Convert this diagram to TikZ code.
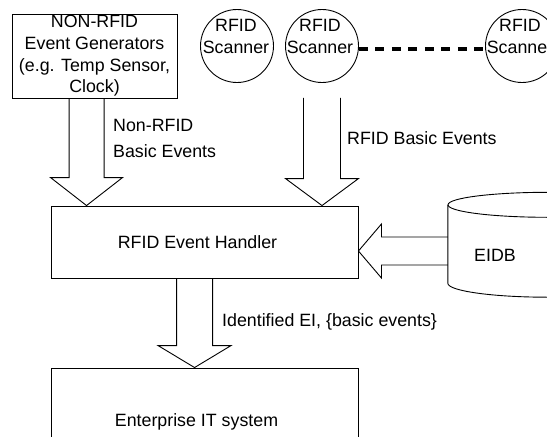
\documentclass[tikz,border=0pt]{standalone}
\usepackage{fontspec}
\setmainfont{Liberation Sans}
\usetikzlibrary{calc}
% block arrow pointing down: #1 start, #2 tip, #3 half shaft, #4 half head, #5 head length
\newcommand\blkdown[5]{%
  \draw[blk] let \p1=(#1), \p2=(#2) in
    (\x1-#3pt,\y1) -- (\x1-#3pt,\y2+#5pt) -- (\x1-#4pt,\y2+#5pt) -- (\x1,\y2)
    -- (\x1+#4pt,\y2+#5pt) -- (\x1+#3pt,\y2+#5pt) -- (\x1+#3pt,\y1);}
% block arrow pointing left
\newcommand\blkleft[5]{%
  \draw[blk] let \p1=(#1), \p2=(#2) in
    (\x1,\y1+#3pt) -- (\x2+#5pt,\y1+#3pt) -- (\x2+#5pt,\y1+#4pt) -- (\x2,\y1)
    -- (\x2+#5pt,\y1-#4pt) -- (\x2+#5pt,\y1-#3pt) -- (\x1,\y1-#3pt);}
\begin{document}
\begin{tikzpicture}[x=1pt,y=-1pt,
  font=\fontsize{17.8}{21.6}\selectfont,
  box/.style={draw, line width=0.9pt, inner sep=0pt, align=center},
  scan/.style={circle, draw, line width=0.9pt, minimum size=73pt, inner sep=0pt},
  stext/.style={align=center, inner sep=0pt, font=\fontsize{17.8}{21.5}\selectfont},
  lbl/.style={inner sep=0pt, align=left},
  blk/.style={draw, line width=0.9pt, line join=miter},
  dashline/.style={line width=4pt, dash pattern=on 9pt off 7.5pt}]
\useasboundingbox (0,0) rectangle (547,437);
\begin{scope}
\clip (0,0) rectangle (547,437);
% nodes
\node[box, minimum width=165pt, minimum height=84pt] (gen) at (94.5,56)
  {NON-RFID\\Event Generators\\(e.g. Temp Sensor,\\Clock)};
\node[scan] (sc1) at (237,46) {};
\node[scan] (sc2) at (322,46) {};
\node[scan] (sc3) at (522,46) {};
\node[stext] (sc1t) at (236,36.5) {RFID\\Scanner};
\node[stext] (sc2t) at (320,36.5) {RFID\\Scanner};
\node[stext] (sc3t) at (520,36.5) {RFID\\Scanner};
\node[box, minimum width=307pt, minimum height=72pt,
  label={[xshift=-7pt]center:RFID Event Handler}] (handler) at (204.5,242) {};
\node[box, minimum width=307pt, minimum height=108pt,
  label={[xshift=-8pt]center:Enterprise IT system}] (ent) at (204.5,422) {};
% EIDB cylinder
\node[inner sep=0pt, minimum width=200pt, minimum height=78pt,
  label={[xshift=-53pt, yshift=-11pt]center:EIDB}] (eidb) at (548,244) {};
\draw[line width=0.9pt] (eidb.north west) -- (eidb.south west)
  arc[start angle=180, end angle=360, x radius=100pt, y radius=14pt] -- (eidb.north east);
\draw[line width=0.9pt] (eidb.north) ellipse[x radius=100pt, y radius=12.5pt];
% connectors
\draw[dashline] ([yshift=-3pt]sc2.east) -- ([yshift=-3pt]sc3.west);
\coordinate (a1s) at ($(gen.south west)+(75,0)$);
\coordinate (a1e) at ($(handler.north west)+(36,0)$);
\blkdown{a1s}{a1e}{17.5}{36}{28}
\coordinate (a2s) at ($(sc2.south)+(0,15)$);
\coordinate (a2e) at (sc2.south |- handler.north);
\blkdown{a2s}{a2e}{18.5}{36.5}{27}
\coordinate (a3s) at ($(handler.south west)+(144,0)$);
\coordinate (a3e) at ($(ent.north west)+(144,0)$);
\blkdown{a3s}{a3e}{18}{36.5}{22}
\coordinate (a4s) at ($(eidb.west)+(0,7)$);
\coordinate (a4e) at ($(handler.east)+(0,9)$);
\blkleft{a4s}{a4e}{14}{27}{23}
% labels
\node[lbl, anchor=west, font=\fontsize{17.8}{26}\selectfont] (l1) at (113,138) {Non-RFID\\Basic Events};
\node[lbl, anchor=base west] (l2) at (347,144.5) {RFID Basic Events};
\node[lbl, anchor=base west] (l3) at (222,326.4) {Identified EI, \{basic events\}};
\end{scope}
\end{tikzpicture}
\end{document}
